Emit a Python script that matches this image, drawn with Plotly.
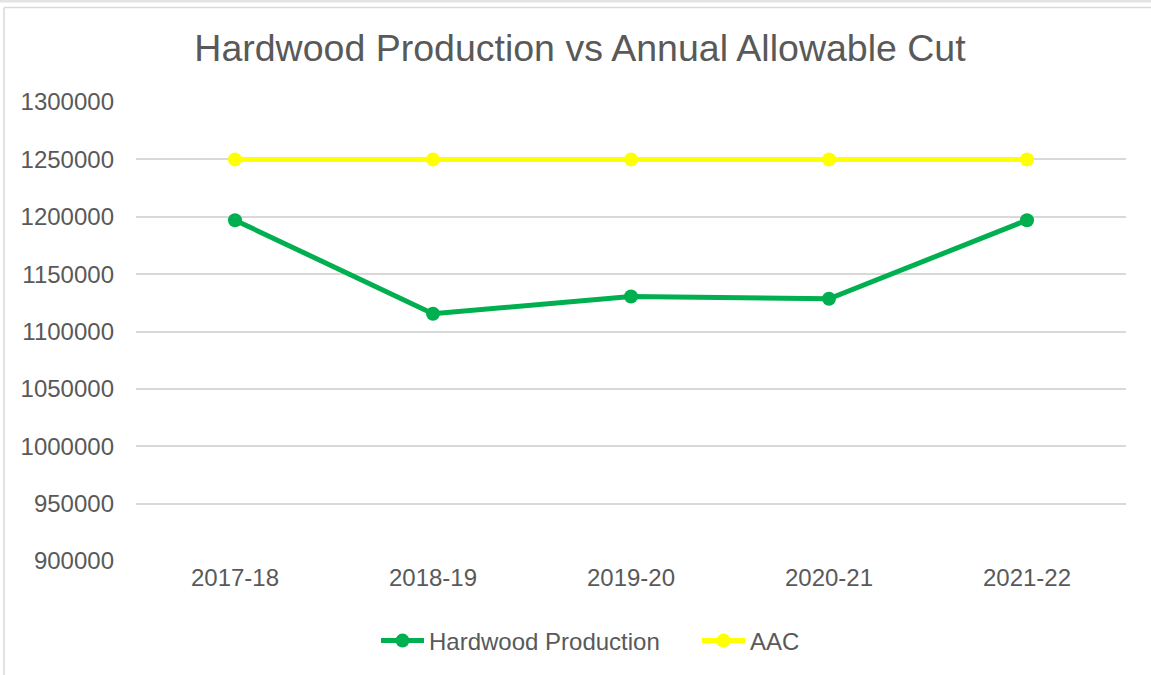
import plotly.graph_objects as go

years = ["2017-18", "2018-19", "2019-20", "2020-21", "2021-22"]
hardwood = [1197000, 1115500, 1130500, 1128500, 1197000]
aac = [1250000, 1250000, 1250000, 1250000, 1250000]
y_ticks = [900000, 950000, 1000000, 1050000, 1100000, 1150000, 1200000, 1250000, 1300000]

W, H = 1151, 675
L, R, T, B = 136, 25, 102, 114
pw, ph = W - L - R, H - T - B

def px(x):
    return (x - L) / pw

def py(y):
    return (H - B - y) / ph

FONT = "Liberation Sans, Arial, sans-serif"
TXT = "#595959"

fig = go.Figure()
fig.add_trace(go.Scatter(x=years, y=hardwood, name="Hardwood Production", mode="lines+markers",
                         line=dict(color="#00B050", width=5), marker=dict(size=14, color="#00B050")))
fig.add_trace(go.Scatter(x=years, y=aac, name="AAC", mode="lines+markers",
                         line=dict(color="#FFFF00", width=5), marker=dict(size=14, color="#FFFF00")))

shapes = [
    dict(type="rect", xref="paper", yref="paper", x0=px(-2), x1=px(W + 2), y0=py(-1), y1=py(2.5),
         fillcolor="#e3e3e3", line=dict(width=0), layer="below"),
    dict(type="line", xref="paper", yref="paper", x0=px(4), x1=px(W + 2), y0=py(7.5), y1=py(7.5),
         line=dict(color="#d9d9d9", width=1.5)),
    dict(type="line", xref="paper", yref="paper", x0=px(4), x1=px(4), y0=py(7.5), y1=py(H + 2),
         line=dict(color="#d9d9d9", width=1.5)),
]

fig.update_layout(
    width=W, height=H,
    margin=dict(l=L, r=R, t=T, b=B),
    paper_bgcolor="white", plot_bgcolor="white",
    font=dict(family=FONT, color=TXT, size=24),
    title=dict(text="Hardwood Production vs Annual Allowable Cut", x=580 / W, xref="container",
               xanchor="center", y=1 - 48 / H, yref="container", yanchor="middle",
               font=dict(size=37.5, color=TXT, family=FONT)),
    xaxis=dict(type="category", range=[-0.5, 4.5], showgrid=False, zeroline=False,
               showline=False, ticks="", tickfont=dict(size=24, color=TXT)),
    yaxis=dict(range=[900000, 1300000], tickvals=y_ticks, ticktext=[str(v) for v in y_ticks],
               showgrid=True, gridcolor="#d9d9d9", gridwidth=1.5, zeroline=False,
               showline=False, ticks="", ticklabelstandoff=21,
               tickfont=dict(size=24, color=TXT)),
    legend=dict(orientation="h", x=px(376), xanchor="left", y=py(641), yanchor="middle",
                font=dict(size=24, color=TXT), tracegroupgap=0, itemwidth=43,
                entrywidth=263, entrywidthmode="pixels"),
    shapes=shapes,
    showlegend=True,
)

fig.write_html("out.html", config={"displayModeBar": False},
               post_script="document.body.style.margin='0px';document.body.style.overflow='hidden';")
